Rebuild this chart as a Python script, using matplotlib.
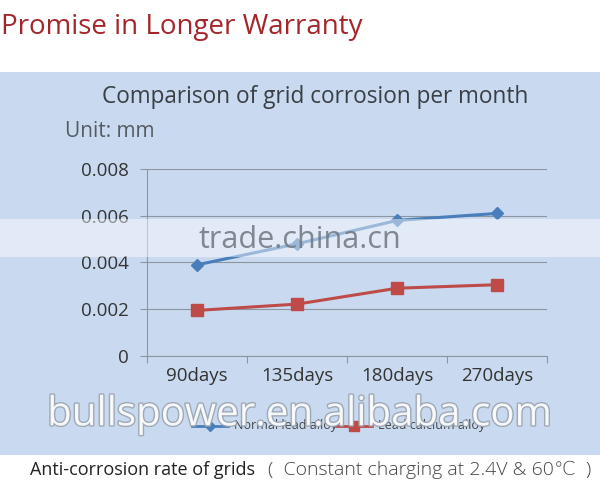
import matplotlib
matplotlib.use("Agg")
import matplotlib.pyplot as plt
import matplotlib.patheffects as pe
from matplotlib.patches import Rectangle

# data
categories = ["90days", "135days", "180days", "270days"]
normal_alloy = [0.0039, 0.0048, 0.0058, 0.0061]
calcium_alloy = [0.00195, 0.00222, 0.0029, 0.00305]
series_names = ["Normal lead alloy", "Lead calcium alloy"]
yticks = [0, 0.002, 0.004, 0.006, 0.008]

plt.rcParams["font.family"] = ["Open Sans", "DejaVu Sans"]

PANEL = "#C9DAF0"
BLUE = "#4A7EBB"
RED = "#BE4B48"
GRID = "#8C96A0"

fig = plt.figure(figsize=(6.0, 5.01), dpi=100)
fig.patch.set_facecolor("white")
fig.patches.append(Rectangle((0, 0.092), 1, 0.764, transform=fig.transFigure,
                             facecolor=PANEL, edgecolor="none", zorder=-5))

ax = fig.add_axes([0.245, 0.2894, 0.667, 0.3733])
ax.set_facecolor("none")
ax.set_zorder(1)
x = range(len(categories))
ax.plot(x, normal_alloy, color=BLUE, lw=2.2, marker="D", ms=6, zorder=3)
ax.plot(x, calcium_alloy, color=RED, lw=2.2, marker="s", ms=8, zorder=3)

ax.set_xlim(-0.5, len(categories) - 0.5)
ax.set_ylim(0, 0.008)
ax.set_yticks(yticks)
ax.set_yticklabels(["0", "0.002", "0.004", "0.006", "0.008"])
ax.set_xticks([i - 0.5 for i in range(len(categories) + 1)], minor=False)
ax.set_xticklabels([])
ax.set_xticks(list(x), minor=True)
ax.set_xticklabels(categories, minor=True)
ax.tick_params(axis="x", which="major", length=5, color=GRID, width=0.8)
ax.tick_params(axis="x", which="minor", length=0, pad=8, labelsize=13.5, labelcolor="#333333")
ax.tick_params(axis="y", length=5, color=GRID, width=0.8, labelsize=13.5,
               labelcolor="#333333", pad=8)
ax.grid(axis="y", color=GRID, lw=0.8)
for side in ["top", "right"]:
    ax.spines[side].set_visible(False)
for side in ["left", "bottom"]:
    ax.spines[side].set_color(GRID)
    ax.spines[side].set_linewidth(0.8)

fig.text(0.002, 0.946, "Promise in Longer Warranty", fontsize=20, color="#A3262A",
         ha="left", va="center")
fig.text(0.525, 0.806, "Comparison of grid corrosion per month", fontsize=16.3,
         color="#3A3F45", ha="center", va="center")
fig.text(0.108, 0.738, "Unit: mm", fontsize=15, color="#555B62", ha="left", va="center")

# watermark band
band = Rectangle((0, 0.487), 1, 0.075, transform=fig.transFigure,
                 facecolor="white", alpha=0.45, edgecolor="none", zorder=5)
fig.patches.append(band)
fig.text(0.5, 0.52, "trade.china.cn", fontsize=22, color="#6E7680", alpha=0.85,
         ha="center", va="center", zorder=6)

# legend
lx = [0.35, 0.59]
for i, (name, col, mk, ms) in enumerate(zip(series_names, [BLUE, RED], ["D", "s"], [5, 7])):
    fig.add_artist(plt.Line2D([lx[i] - 0.03, lx[i], lx[i] + 0.03], [0.15, 0.15, 0.15],
                              color=col, lw=2, marker=mk, markevery=[1], ms=ms,
                              transform=fig.transFigure, zorder=4))
    fig.text(lx[i] + 0.04, 0.15, name, fontsize=9, color="#444444", ha="left", va="center")

fig.text(0.5, 0.172, "bullspower.en.alibaba.com", fontsize=29, color="white", alpha=0.9,
         ha="center", va="center", zorder=6,
         path_effects=[pe.withStroke(linewidth=2, foreground="#9AA4B0")])

fig.text(0.05, 0.062, "Anti-corrosion rate of grids", fontsize=13, color="#222222",
         ha="left", va="center")
fig.text(0.447, 0.062, "(  Constant charging at 2.4V & 60\u2103  )", fontsize=14,
         color="#444444", ha="left", va="center", fontweight="light")

fig.savefig("out.png", dpi=100)
